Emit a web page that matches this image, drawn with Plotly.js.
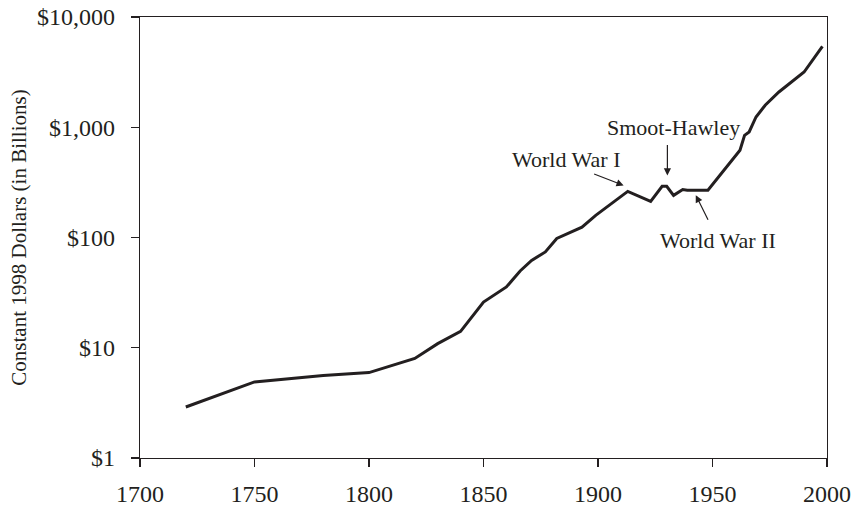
<!DOCTYPE html>
<html>
<head>
<meta charset="utf-8">
<script src="https://cdn.plot.ly/plotly-3.0.1.min.js"></script>
<style>html,body{margin:0;padding:0;background:#fff;}#chart{width:853px;height:510px;}</style>
</head>
<body>
<div id="chart"></div>
<script>
const years = [1720,1750,1780,1800,1820,1830,1840,1850,1860,1866,1871,1877,1882,1888,1893,1899,1905,1913,1923,1928,1930,1933,1937,1939,1948,1956,1962,1964,1966,1969,1973,1979,1990,1998];
const gdp   = [2.9,4.9,5.6,5.95,8.0,10.9,14.1,26,35.6,49.7,62,74,98,112,124,159,196,262,213,291,291,241,272,268,268,436,618,845,906,1239,1582,2089,3170,5420];

const tickVals = [1,10,100,1000,10000];
const tickText = ["$1","$10","$100","$1,000","$10,000"];

const noteLabels = ["World War I","Smoot-Hawley","World War II"];
const noteTextX  = [1885.9,1932.8,1952.3];
const noteTextY  = [512,1000,94.4];
const noteHeadX  = [1911.2,1930.3,1942.7];
const noteHeadY  = [297,366,242];
const noteAX     = [-31,0,13];
const noteAY     = [-12,-32,26];

const ink = '#231f20';
const fontFam = '"Liberation Serif", "DejaVu Serif", serif';

const annotations = [];
noteLabels.forEach((t,i)=>{
  annotations.push({x:noteTextX[i], y:Math.log10(noteTextY[i]), xref:'x', yref:'y', text:t, showarrow:false,
    font:{family:fontFam,size:22,color:ink}, xanchor:'center', yanchor:'middle'});
  annotations.push({x:noteHeadX[i], y:Math.log10(noteHeadY[i]), xref:'x', yref:'y', text:'', showarrow:true,
    ax:noteAX[i], ay:noteAY[i], arrowhead:2, arrowsize:1.2, arrowwidth:1.2, arrowcolor:ink, standoff:0});
});

Plotly.newPlot('chart', [{
  x: years, y: gdp, type:'scatter', mode:'lines',
  line:{color:ink, width:3}, hoverinfo:'skip'
}], {
  width:853, height:510,
  margin:{l:140, r:26, t:17, b:52},
  paper_bgcolor:'#fff', plot_bgcolor:'#fff',
  showlegend:false,
  font:{family:fontFam, color:ink},
  xaxis:{range:[1700,2000], dtick:50, tick0:1700, showgrid:false, zeroline:false,
    showline:true, linecolor:ink, linewidth:1.2, mirror:true,
    ticks:'outside', ticklen:8, tickcolor:ink, tickwidth:1.2,
    tickfont:{family:fontFam,size:24,color:ink}, ticklabelstandoff:6},
  yaxis:{type:'log', range:[0,4], tickvals:tickVals, ticktext:tickText, showgrid:false, zeroline:false,
    showline:true, linecolor:ink, linewidth:1.2, mirror:true,
    ticks:'outside', ticklen:8, tickcolor:ink, tickwidth:1.2,
    tickfont:{family:fontFam,size:24,color:ink}, ticklabelstandoff:11,
    title:{text:'Constant 1998 Dollars (in Billions)', font:{family:fontFam,size:21,color:ink}, standoff:4}},
  annotations: annotations
}, {staticPlot:true});
</script>
</body>
</html>
